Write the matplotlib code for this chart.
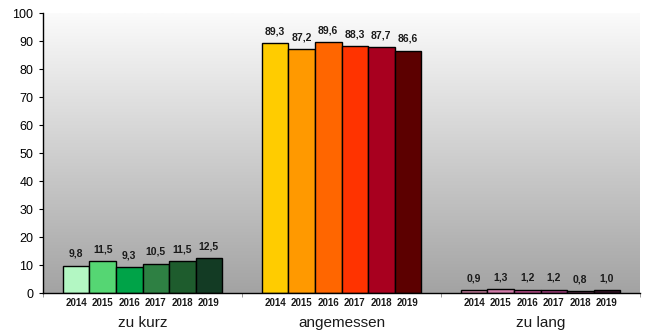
import numpy as np
import matplotlib
matplotlib.use("Agg")
import matplotlib.pyplot as plt
from matplotlib.colors import LinearSegmentedColormap

plt.rcParams['font.family'] = ['Liberation Sans', 'DejaVu Sans']

categories = ["zu kurz", "angemessen", "zu lang"]
years = ["2014", "2015", "2016", "2017", "2018", "2019"]
zu_kurz = [9.8, 11.5, 9.3, 10.5, 11.5, 12.5]
angemessen = [89.3, 87.2, 89.6, 88.3, 87.7, 86.6]
zu_lang = [0.9, 1.3, 1.2, 1.2, 0.8, 1.0]
value_labels = [
    ["9,8", "11,5", "9,3", "10,5", "11,5", "12,5"],
    ["89,3", "87,2", "89,6", "88,3", "87,7", "86,6"],
    ["0,9", "1,3", "1,2", "1,2", "0,8", "1,0"],
]
series = [zu_kurz, angemessen, zu_lang]
colors = [
    ["#b3f7c3", "#55d673", "#00a348", "#2e8043", "#1e5c2d", "#133b24"],
    ["#ffcc00", "#ff9900", "#ff6600", "#ff3300", "#a8001f", "#5c0000"],
    ["#c27a9a", "#d07aa8", "#bb4d8c", "#9e3d7c", "#66304f", "#331426"],
]

fig = plt.figure(figsize=(6.45, 3.33), dpi=100)
ax = fig.add_axes([43/645, 1-293/333, (640-43)/645, (293-13)/333])

# gradient background (white at top, grey at bottom)
grad = np.linspace(0, 1, 256).reshape(-1, 1)
cmap = LinearSegmentedColormap.from_list("bg", ["#fbfbfb", "#a3a3a3"])
ax.imshow(grad, cmap=cmap, aspect="auto", extent=[0, 3, 0, 100],
          origin="upper", zorder=0)

bw = 0.8 / 6
for gi, vals in enumerate(series):
    for j, v in enumerate(vals):
        x = gi + 0.1 + bw * (j + 0.5)
        ax.bar(x, v, width=bw, color=colors[gi][j], edgecolor="black",
               linewidth=1.0, zorder=2)
        ax.text(x, v + 2.4, value_labels[gi][j], ha="center", va="bottom",
                fontsize=7.5, fontweight="bold", color="#1a1a1a", zorder=3)
        ax.text(x, -4.6, years[j], ha="center", va="baseline", fontsize=7,
                fontweight="bold", color="#1a1a1a", clip_on=False)
    ax.text(gi + 0.5, -12.1, categories[gi], ha="center", va="baseline",
            fontsize=11, color="#1a1a1a", clip_on=False)

ax.set_xlim(0, 3)
ax.set_ylim(0, 100)
ax.set_yticks(np.arange(0, 101, 10))
ax.tick_params(axis="y", labelsize=9, length=3, width=0.8, pad=4)
ax.set_xticks([0, 1, 2, 3])
ax.set_xticklabels([])
ax.tick_params(axis="x", length=3, width=0.6, color="#888888")
for s in ["top", "right"]:
    ax.spines[s].set_visible(False)
ax.spines["left"].set_linewidth(1.0)
ax.spines["bottom"].set_linewidth(1.0)

fig.savefig("out.png", dpi=100)
